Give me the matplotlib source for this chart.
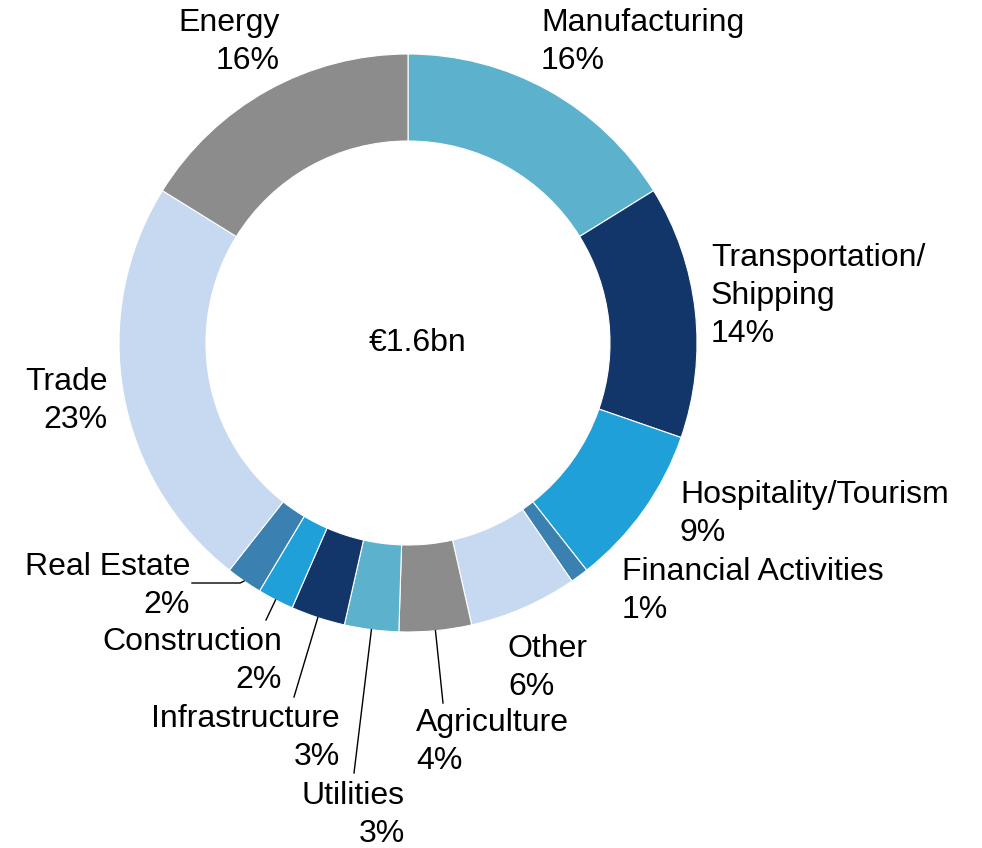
import matplotlib.pyplot as plt
import numpy as np

plt.rcParams['font.family'] = ['Liberation Sans', 'DejaVu Sans']

# Sector split of the portfolio, clockwise from 12 o'clock
sectors = ["Manufacturing", "Transportation/\nShipping", "Hospitality/Tourism",
           "Financial Activities", "Other", "Agriculture", "Utilities",
           "Infrastructure", "Construction", "Real Estate", "Trade", "Energy"]
shares = [16, 14, 9, 1, 6, 4, 3, 3, 2, 2, 23, 16]
colors = ["#5CB2CD", "#13366A", "#1FA0D9", "#3A80B1", "#C7D9F1", "#8C8C8C",
          "#5CB2CD", "#13366A", "#1FA0D9", "#3A80B1", "#C7D9F1", "#8C8C8C"]
total_label = "€1.6bn"

W, H = 982, 848
fig = plt.figure(figsize=(W / 100, H / 100), dpi=100)
ax = fig.add_axes([0, 0, 1, 1])

cx, cy = 408, H - 343
R, ring = 289, 87

wedges, _ = ax.pie(shares, colors=colors, startangle=90, counterclock=False,
                   center=(cx, cy), radius=R, frame=True,
                   wedgeprops=dict(width=ring, edgecolor='white', linewidth=0.8))
ax.set_xlim(0, W)
ax.set_ylim(0, H)
ax.set_aspect('equal')
ax.axis('off')

ax.text(418, H - 343, total_label, ha='center', va='center', fontsize=23)

# label block: (x, y of block centre, alignment, leader line end or None)
layout = {
    "Manufacturing": (541, 42, 'left', None),
    "Transportation/\nShipping": (711, 296, 'left', None),
    "Hospitality/Tourism": (680, 514, 'left', None),
    "Financial Activities": (622, 591, 'left', None),
    "Other": (508, 668, 'left', None),
    "Agriculture": (416, 742, 'left', (443, 703)),
    "Utilities": (405, 815, 'right', (354, 773)),
    "Infrastructure": (340, 738, 'right', (294, 697)),
    "Construction": (282, 661, 'right', (266, 620)),
    "Real Estate": (190, 586, 'right', (192, 583)),
    "Trade": (108, 401, 'right', None),
    "Energy": (280, 42, 'right', None),
}

for w, name, val in zip(wedges, sectors, shares):
    x, y, ha, lead = layout[name]
    ax.text(x, H - y, f"{name}\n{val}%", ha=ha, va='center', ma=ha,
            fontsize=23, linespacing=1.36)
    if lead is not None:
        mid = np.deg2rad((w.theta1 + w.theta2) / 2)
        px, py = cx + R * np.cos(mid), cy + R * np.sin(mid)
        if name == "Real Estate":
            ax.plot([lead[0], px - 4, px], [H - lead[1], H - lead[1], py],
                    color='black', lw=1)
        else:
            ax.plot([lead[0], px], [H - lead[1], py], color='black', lw=1)

fig.savefig("out.png", dpi=100)
